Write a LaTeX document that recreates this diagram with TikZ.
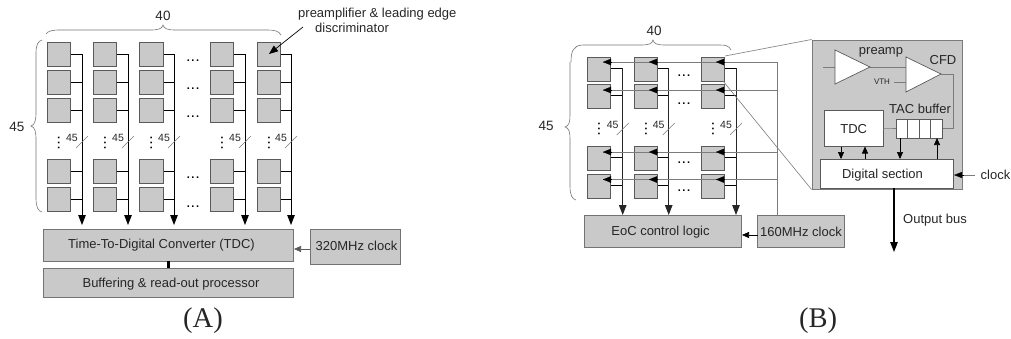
\documentclass[tikz,border=0pt]{standalone}
\usepackage{fontspec}
\setmainfont{Liberation Sans}
\newfontfamily\capfont{Liberation Serif}
\usetikzlibrary{arrows.meta}
\definecolor{cellgrey}{HTML}{C9C9C9}
\definecolor{edgegrey}{HTML}{5A5A5A}
\definecolor{ink}{HTML}{262626}
\tikzset{
  cell/.style={draw=edgegrey,fill=cellgrey,line width=.9pt,inner sep=0pt,minimum width=23.5pt,minimum height=24pt},
  block/.style={draw=edgegrey!85,fill=cellgrey,line width=.9pt,inner sep=0pt},
  whitebox/.style={draw=edgegrey,fill=white,line width=.9pt,inner sep=0pt},
  lbl/.style={inner sep=0pt,text=ink,yshift=-1.3pt,font=\fontsize{13}{15}\selectfont},
  small/.style={inner sep=0pt,text=ink,font=\fontsize{10.5}{12}\selectfont},
  bus/.style={draw=black,line width=1pt},
  busarrow/.style={bus,-{Triangle[length=10pt,width=7.5pt]}},
  wire/.style={draw=edgegrey!80,line width=.6pt},
  wirearrow/.style={draw=black,line width=.7pt,-{Triangle[length=7pt,width=6pt]}},
  brace/.style={draw=black!55,line width=.6pt},
  tri/.style={draw=edgegrey,fill=white,line width=.7pt},
  dotsh/.style={inner sep=0pt,font=\bfseries\fontsize{11}{12}\selectfont},
  dotsv/.style={dotsh,rotate=90},
  caplbl/.style={inner sep=0pt,text=ink,font=\capfont\fontsize{28.5}{30}\selectfont},
}
\newcommand{\spdots}{.\kern1.6pt.\kern1.6pt.}
\begin{document}
\begin{tikzpicture}[x=1pt,y=-1pt]
\useasboundingbox (0,0) rectangle (1011,338);
% ---- Panel A
\foreach \c/\x/\b in {1/58.8/82,2/105/128,3/151.3/174,4/222/245,5/269/291}{
  \coordinate (abt\c) at (\b,54);
  \coordinate (abe\c) at (\b,225);
  \foreach \r/\y in {1/54,2/82,3/110,4/171,5/199}{
    \node[cell] (a\c r\r) at (\x,\y) {};
    \coordinate (ab\c r\r) at (\b,\y);
    \draw[bus] (a\c r\r.east) -- (ab\c r\r);
  }
  \draw[busarrow] (abt\c) -- (abe\c);
  \node[dotsv] (avd\c) at (\x,143) {\spdots};
  \node[small] (an\c) at (\b-10,138) {45};
  \draw[wire] (\b-6,148) -- (\b+6,136);
}
\foreach \y [count=\i] in {63,91,119,180,209}{
  \node[dotsh] (ah\i) at (193,\y-2) {\spdots};
}
\draw[brace] (46,34) .. controls (48,31) and (52,30) .. (60,30) -- (150,30)
  .. controls (158,30) and (162,29) .. (163,25) .. controls (164,29) and (168,30) .. (176,30)
  -- (268,30) .. controls (274,30) and (279,31) .. (281,35);
\draw[brace] (42,40) .. controls (38,41) and (36,45) .. (36,53) -- (36,112)
  .. controls (36,120) and (35,125) .. (31,126) .. controls (35,127) and (36,132) .. (36,140)
  -- (36,198) .. controls (36,207) and (38,211) .. (42,212);
\node[lbl,font=\fontsize{13.5}{15}\selectfont] (a40) at (163,15) {40};
\node[lbl,font=\fontsize{13.5}{15}\selectfont] (a45) at (17,126) {45};
\node[lbl,align=left,anchor=north west] (apre) at (298,6.5) {preamplifier \& leading edge\\\hspace*{17pt}discriminator};
\coordinate (apres) at (303,27);
\draw[wirearrow,-{Triangle[length=9pt,width=7pt]}] (apres) -- (a5r1.center);
\node[block,minimum width=250pt,minimum height=32pt] (tdc) at (168,245) {};
\node[lbl] (tdct) at (161.5,244) {Time-To-Digital Converter (TDC)};
\node[block,minimum width=90pt,minimum height=35pt] (clka) at (355,246.5) {};
\node[lbl] (clkat) at (356.5,244.5) {320MHz clock};
\node[block,minimum width=250pt,minimum height=29pt] (buf) at (168,282.5) {};
\node[lbl] (buft) at (171,283) {Buffering \& read-out processor};
\coordinate (clkain) at (310,249);
\coordinate (tdcin) at (294,249);
\draw[wirearrow,draw=edgegrey] (clkain) -- (tdcin);
\draw[draw=black,line width=3pt] (tdc.south) -- (buf.north);
\node[caplbl] (capa) at (203,321) {(A)};
% ---- Zoom lines
\coordinate (zt) at (725,56);
\coordinate (zb) at (723,81);
% ---- Panel B
\foreach \c/\x/\b in {1/599/622.7,2/646/668.7,3/713/736}{
  \coordinate (bbt\c) at (\b,68);
  \coordinate (bbe\c) at (\b,215);
  \foreach \r/\y in {1/69,2/96,3/158,4/186}{
    \node[cell] (b\c r\r) at (\x,\y) {};
    \coordinate (bb\c r\r) at (\b,\y-1);
    \draw[bus] (b\c r\r.east|-bb\c r\r) -- (bb\c r\r);
  }
  \draw[busarrow,draw=black!85] (bbt\c) -- (bbe\c);
  \node[dotsv] (bvd\c) at (\x,129) {\spdots};
  \node[small] (bn\c) at (\b-10,125) {45};
  \draw[wire] (\b-6,135) -- (\b+6,123);
}
\foreach \y [count=\i] in {78,106,165,193}{
  \node[dotsh] (bh\i) at (684,\y-2) {\spdots};
}
\draw[brace] (571,62) .. controls (571,52) and (573,45) .. (583,45) -- (640,45)
  .. controls (649,45) and (652,44) .. (653,40) .. controls (654,44) and (657,45) .. (666,45)
  -- (720,45) .. controls (726,45) and (729,46) .. (731,50);
\draw[brace] (570,62) -- (570,115) .. controls (570,122) and (569,126) .. (565,127)
  .. controls (569,128) and (570,132) .. (570,139) -- (570,186)
  .. controls (570,195) and (572,199) .. (576,200);
\node[lbl,font=\fontsize{13.5}{15}\selectfont] (b40) at (654,30) {40};
\node[lbl,font=\fontsize{13.5}{15}\selectfont] (b45) at (546,125) {45};
\node[block,minimum width=157pt,minimum height=32pt] (eoc) at (662.5,231) {};
\node[lbl] (eoct) at (660.5,230.5) {EoC control logic};
\node[block,minimum width=87pt,minimum height=32pt] (clkb) at (801,231) {};
\node[lbl] (clkbt) at (801,230.5) {160MHz clock};
\coordinate (clkbv) at (777.7,215);
\foreach \r/\y in {1/62,2/90,3/152,4/179.5}{
  \coordinate (bv\r) at (777.7,\y);
  \foreach \c/\t in {1/603,2/649,3/716}{
    \coordinate (bt\c r\r) at (\t,\y);
  }
  \draw[wire] (bv\r) -- (bt1r\r);
  \foreach \c in {1,2,3}{
    \draw[draw=black,line width=.1pt,-{Triangle[length=8pt,width=6.5pt]}] (bt\c r\r)++(8,0) -- (bt\c r\r);
  }
}
\draw[wire] (clkbv) -- (bv1);
\coordinate (clkbout) at (757.5,235);
\coordinate (eocin) at (742,235);
\draw[wirearrow] (clkbout) -- (eocin);
\node[caplbl] (capb) at (818,321) {(B)};
% ---- Inset
\node[draw=edgegrey!80,fill=cellgrey,line width=1pt,inner sep=0pt,minimum width=150.5pt,minimum height=149pt] (inset) at (887.3,114.5) {};
\draw[wire] (zt) -- (inset.north west);
\draw[wire] (zb) -- (inset.south west);
\coordinate (inp) at (823,67);
\coordinate (p1) at (835,50); \coordinate (p2) at (835,84); \coordinate (p3) at (870,67);
\coordinate (c1) at (906,57); \coordinate (c2) at (906,92); \coordinate (c3) at (941,74);
\draw[wire] (inp) -- (835,67);
\draw[wire] (p3) -- (906,67);
\draw[tri] (p1) -- (p3) -- (p2) -- cycle;
\draw[tri] (c1) -- (c3) -- (c2) -- cycle;
\node[lbl] (lpre) at (881,51.5) {preamp};
\node[lbl] (lcfd) at (943,58.5) {CFD};
\node[inner sep=0pt,text=ink,font=\fontsize{8}{9}\selectfont] (lvth) at (882,82) {VTH};
\draw[wire] (lvth.east)++(4,0) -- (906,82);
\node[whitebox,minimum width=58.5pt,minimum height=35.5pt] (btdc) at (853.7,128.3) {};
\node[lbl] (btdct) at (853.7,128) {TDC};
\node[lbl] (ltac) at (920,107.5) {TAC buffer};
\node[whitebox,minimum width=11.4pt,minimum height=19pt] (q1) at (902.2,128.5) {};
\node[whitebox,minimum width=11.4pt,minimum height=19pt] (q2) at (913.6,128.5) {};
\node[whitebox,minimum width=11.4pt,minimum height=19pt] (q3) at (925,128.5) {};
\node[whitebox,minimum width=11.4pt,minimum height=19pt] (q4) at (936.4,128.5) {};
\draw[wire] (btdc.east) -- (q1.west);
\draw[wire] (c3) -- (953,74) -- (953,128.5) -- (q4.east);
\node[whitebox,minimum width=133pt,minimum height=29pt] (dig) at (887,173.5) {};
\node[lbl] (digt) at (882.5,173.5) {Digital section};
\coordinate (a1t) at (841,146.5); \coordinate (a1b) at (841,159);
\coordinate (a2t) at (865,146.5); \coordinate (a2b) at (865,159);
\coordinate (a3t) at (900,138); \coordinate (a3b) at (900,159);
\coordinate (a4t) at (937,138); \coordinate (a4b) at (937,159);
\draw[wirearrow] (a1t) -- (a1b);
\draw[wirearrow] (a2b) -- (a2t);
\draw[wirearrow] (a3t) -- (a3b);
\draw[wirearrow] (a4b) -- (a4t);
\node[lbl,anchor=east] (lclk) at (1010.5,173.5) {clock};
\coordinate (clkin) at (975,175);
\coordinate (digin) at (954,175);
\draw[wire] (clkin) -- (964,175);
\draw[draw=black,line width=.4pt,-{Triangle[length=8pt,width=6pt]}] (964,175) -- (digin);
\coordinate (outb) at (894,252);
\draw[busarrow,line width=1.2pt] (dig.south-|outb) -- (outb);
\node[lbl,anchor=west] (lout) at (903,219) {Output bus};
\end{tikzpicture}
\end{document}
